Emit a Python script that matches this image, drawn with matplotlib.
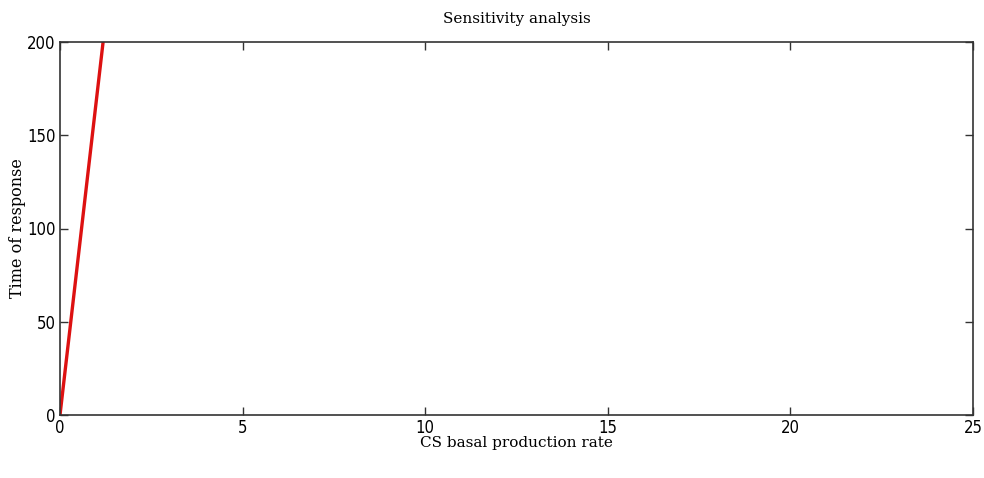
import matplotlib
matplotlib.use('Agg')
import matplotlib.pyplot as plt

# values
basal_rate = [0, 1.18]
response_time = [0, 200]
x_ticks = [0, 5, 10, 15, 20, 25]
y_ticks = [0, 50, 100, 150, 200]

fig = plt.figure(figsize=(9.84, 4.78), dpi=100)
ax = fig.add_axes([60/984, 1 - 415/478, 913/984, 373/478])

ax.plot(basal_rate, response_time, color='#dd1111', linewidth=2.4, solid_capstyle='butt')
ax.set_xlim(0, 25)
ax.set_ylim(0, 200)
ax.set_xticks(x_ticks)
ax.set_yticks(y_ticks)

tick_font = {'family': ['DejaVu Sans'], 'size': 12, 'stretch': 'condensed'}
ax.set_xticklabels([str(t) for t in x_ticks], fontdict=tick_font)
ax.set_yticklabels([str(t) for t in y_ticks], fontdict=tick_font)
ax.tick_params(direction='in', top=True, right=True, length=6, width=1, color='#333333')
ax.tick_params(axis='x', pad=3)
ax.tick_params(axis='y', pad=3)
for s in ax.spines.values():
    s.set_color('#333333')
    s.set_linewidth(1.2)

ax.set_xlabel('CS basal production rate', fontfamily='DejaVu Serif', fontsize=11, labelpad=-1)
ax.set_ylabel('Time of response', fontfamily='DejaVu Serif', fontsize=11.5, labelpad=1)
ax.set_title('Sensitivity analysis', fontfamily='DejaVu Serif', fontsize=11, pad=14)

fig.savefig('out.png', dpi=100)
